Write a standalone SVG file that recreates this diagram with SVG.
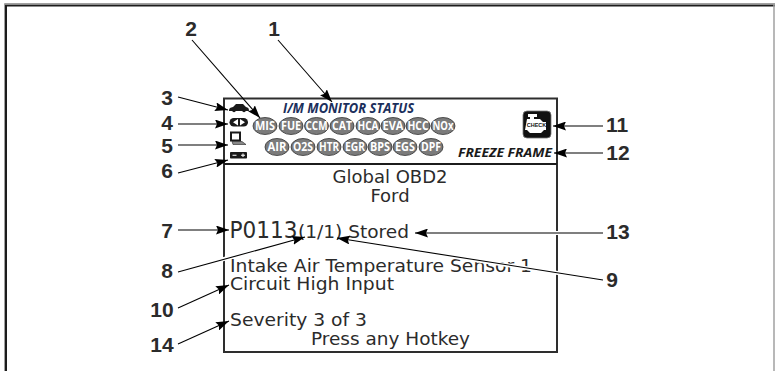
<svg xmlns="http://www.w3.org/2000/svg" width="775" height="371" viewBox="0 0 775 371">
<defs>
<marker id="ah" markerUnits="userSpaceOnUse" markerWidth="13" markerHeight="9" refX="13" refY="4.5" orient="auto"><path d="M0 0L13 4.5L0 9L2 4.5Z" fill="#000"/></marker>
</defs>
<style>
.n{font:bold 21px "Liberation Sans",Arial,sans-serif;fill:#2b2b2b;text-anchor:middle}
.l{font-family:"DejaVu Sans",Verdana,sans-serif;font-size:18px;fill:#2b2b2b}
.a{fill:none;stroke:#000;stroke-width:1.1;marker-end:url(#ah)}
.h{fill:none;stroke:#fff;stroke-width:4}
.p ellipse{fill:#7b7b7b;stroke:#333;stroke-width:.8}
.p text{font:bold 11.500px "Open Sans",sans-serif;fill:#fff;text-anchor:middle}
.i{font-family:"Open Sans",sans-serif;font-weight:bold;font-style:italic}
</style>
<rect width="775" height="371" fill="#fff"/>
<g id="frame" fill="none">
<path d="M4.500 371V3.500H775" stroke="#a0a0a0" stroke-width="1"/>
<path d="M6 371V5.500H775" stroke="#1c1c1c" stroke-width="2"/>
<path d="M774 4V371" stroke="#a0a0a0" stroke-width="1.500"/>
</g>
<g id="screen">
<rect x="224" y="98.500" width="333" height="253.500" fill="#fff" stroke="#2e2e2e" stroke-width="2"/>
<path d="M224 164H557" stroke="#1c1c1c" stroke-width="2"/>
</g>
<g id="title"><text class="i" x="283" y="113" font-size="14" fill="#1b2f5c" textLength="131" lengthAdjust="spacingAndGlyphs">I/M MONITOR STATUS</text></g>
<g id="monitors" class="p">
<g id="m-mis"><ellipse cx="265" cy="126" rx="12" ry="8.500"/><text x="265" y="130" textLength="20" lengthAdjust="spacingAndGlyphs">MIS</text></g>
<g id="m-fue"><ellipse cx="291" cy="126" rx="12" ry="8.500"/><text x="291" y="130" textLength="20" lengthAdjust="spacingAndGlyphs">FUE</text></g>
<g id="m-ccm"><ellipse cx="316.500" cy="126" rx="12" ry="8.500"/><text x="316.500" y="130" textLength="22" lengthAdjust="spacingAndGlyphs">CCM</text></g>
<g id="m-cat"><ellipse cx="342" cy="126" rx="12" ry="8.500"/><text x="342" y="130" textLength="20" lengthAdjust="spacingAndGlyphs">CAT</text></g>
<g id="m-hca"><ellipse cx="368" cy="126" rx="12" ry="8.500"/><text x="368" y="130" textLength="21" lengthAdjust="spacingAndGlyphs">HCA</text></g>
<g id="m-eva"><ellipse cx="393" cy="126" rx="12" ry="8.500"/><text x="393" y="130" textLength="21" lengthAdjust="spacingAndGlyphs">EVA</text></g>
<g id="m-hcc"><ellipse cx="418" cy="126" rx="12" ry="8.500"/><text x="418" y="130" textLength="21" lengthAdjust="spacingAndGlyphs">HCC</text></g>
<g id="m-nox"><ellipse cx="443" cy="126" rx="12" ry="8.500"/><text x="443" y="130" textLength="21" lengthAdjust="spacingAndGlyphs">NOx</text></g>
<g id="m-air"><ellipse cx="277" cy="147" rx="12" ry="8.500"/><text x="277" y="151" textLength="19" lengthAdjust="spacingAndGlyphs">AIR</text></g>
<g id="m-o2s"><ellipse cx="303" cy="147" rx="12" ry="8.500"/><text x="303" y="151" textLength="20" lengthAdjust="spacingAndGlyphs">O2S</text></g>
<g id="m-htr"><ellipse cx="329" cy="147" rx="12" ry="8.500"/><text x="329" y="151" textLength="20" lengthAdjust="spacingAndGlyphs">HTR</text></g>
<g id="m-egr"><ellipse cx="355" cy="147" rx="12" ry="8.500"/><text x="355" y="151" textLength="20" lengthAdjust="spacingAndGlyphs">EGR</text></g>
<g id="m-bps"><ellipse cx="380" cy="147" rx="12" ry="8.500"/><text x="380" y="151" textLength="20" lengthAdjust="spacingAndGlyphs">BPS</text></g>
<g id="m-egs"><ellipse cx="405" cy="147" rx="12" ry="8.500"/><text x="405" y="151" textLength="20" lengthAdjust="spacingAndGlyphs">EGS</text></g>
<g id="m-dpf"><ellipse cx="431" cy="147" rx="12" ry="8.500"/><text x="431" y="151" textLength="20" lengthAdjust="spacingAndGlyphs">DPF</text></g>
</g>
<g id="icon-car"><path d="M229 111c0-3 1.500-3.500 4-4l3-3h7l3 3c2 .5 3 1 3 4z" fill="#1a1a1a"/><circle cx="234" cy="110.500" r="1.800" fill="#1a1a1a"/><circle cx="244" cy="110.500" r="1.800" fill="#1a1a1a"/></g>
<g id="icon-lr"><rect x="229.500" y="118" width="18.500" height="8.500" rx="4.250" fill="#1a1a1a"/><path d="M238 119v6.500l-5-3.250zM240 119v6.500l5-3.250z" fill="#fff"/></g>
<g id="icon-pc"><rect x="231" y="132.500" width="9" height="8" fill="#fff" stroke="#1a1a1a" stroke-width="2"/><path d="M232 141.500h10l4 3h-13z" fill="#888" stroke="#222" stroke-width=".6"/></g>
<g id="icon-batt"><rect x="230" y="152" width="17" height="6.500" rx=".8" fill="#1a1a1a"/><path d="M232.500 155.300h4M241 155.300h4M243 153.500v3.500" stroke="#fff" stroke-width="1.100"/></g>
<g id="icon-check"><rect x="523" y="111" width="28" height="27" rx="4" fill="#111" stroke="#777" stroke-width=".8"/><path d="M527 119h3v-2h-2v-3h9v3h-3v2h6l3 3h3v8h-2l-3 3h-11l-3-3h-2z" fill="#fff"/><text x="536.500" y="127" font-family="Liberation Sans,sans-serif" font-weight="bold" font-size="5.500px" text-anchor="middle" fill="#111">CHECK</text></g>
<g id="freeze"><text class="i" x="458" y="157" font-size="13" fill="#1a1a1a" textLength="94" lengthAdjust="spacingAndGlyphs">FREEZE FRAME</text></g>
<g id="lcd">
<text class="l" x="390" y="183" text-anchor="middle">Global OBD2</text>
<text class="l" x="390" y="202" text-anchor="middle">Ford</text>
<text class="l" x="229.500" y="238" style="font-size:23px" textLength="68" lengthAdjust="spacingAndGlyphs">P0113</text>
<text class="l" x="298" y="238" textLength="111" lengthAdjust="spacingAndGlyphs">(1/1) Stored</text>
<text class="l" x="230" y="272" textLength="302" lengthAdjust="spacingAndGlyphs">Intake Air Temperature Sensor 1</text>
<text class="l" x="230" y="290" textLength="164" lengthAdjust="spacingAndGlyphs">Circuit High Input</text>
<text class="l" x="230" y="326" textLength="137" lengthAdjust="spacingAndGlyphs">Severity 3 of 3</text>
<text class="l" x="311" y="345" textLength="159" lengthAdjust="spacingAndGlyphs">Press any Hotkey</text>
</g>
<g id="connectors">
<path class="h" d="M178 272L298 238M590 278L345 240M590 233H430"/>
<path class="a" d="M278 40L332 102"/>
<path class="a" d="M192 40L260 118"/>
<path class="a" d="M178 97L228 110"/>
<path class="a" d="M178 124H228"/>
<path class="a" d="M178 145H228"/>
<path class="a" d="M178 173L228 160"/>
<path class="a" d="M178 230H229"/>
<path class="a" d="M178 272L305 237"/>
<path class="a" d="M603 280L337 238"/>
<path class="a" d="M178 308L229 285"/>
<path class="a" d="M178 344L229 321"/>
<path class="a" d="M603 126H553"/>
<path class="a" d="M603 153H554"/>
<path class="a" d="M603 233H415"/>
</g>
<g id="labels">
<text class="n" x="274" y="36">1</text><text class="n" x="191" y="36">2</text>
<text class="n" x="167" y="105">3</text><text class="n" x="167" y="130">4</text>
<text class="n" x="167" y="153">5</text><text class="n" x="167" y="178">6</text>
<text class="n" x="167" y="238">7</text><text class="n" x="167" y="278">8</text>
<text class="n" x="612" y="287">9</text><text class="n" x="162" y="317">10</text>
<text class="n" x="617" y="132">11</text><text class="n" x="618" y="160">12</text>
<text class="n" x="618" y="239">13</text><text class="n" x="162" y="352">14</text>
</g>
</svg>
